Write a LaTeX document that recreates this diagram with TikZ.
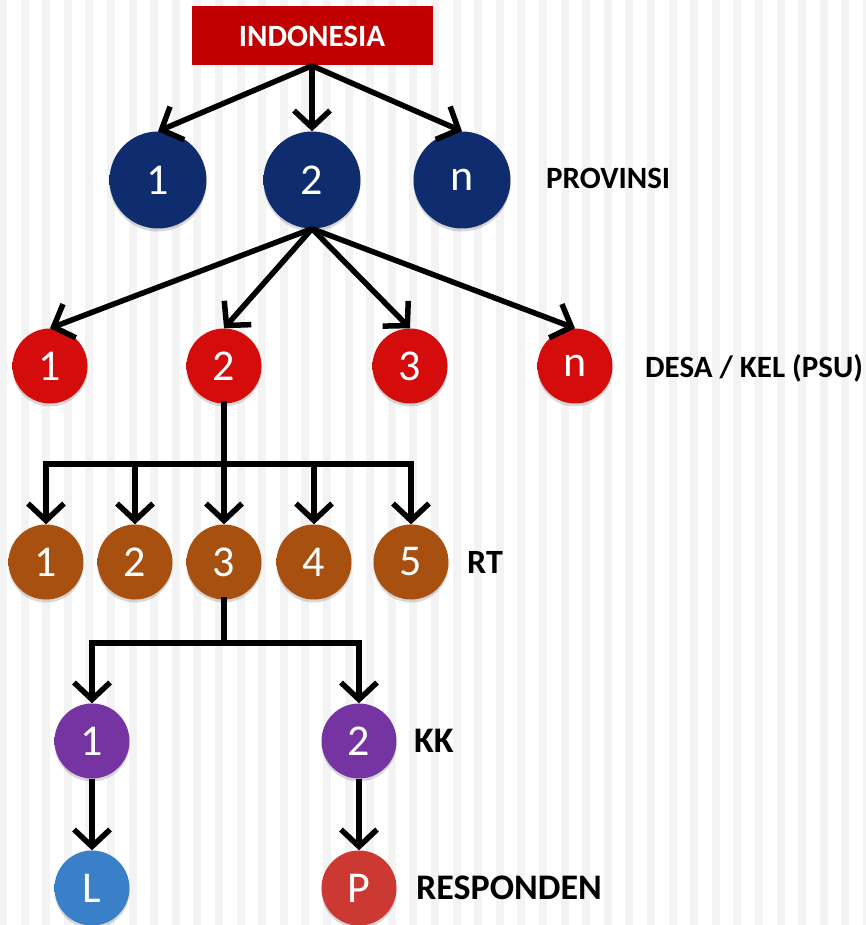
\documentclass[tikz,border=0pt]{standalone}
\usepackage{fontspec}
\setmainfont{Carlito}
\usetikzlibrary{arrows.meta,shadows}

\definecolor{indored}{RGB}{192,0,0}
\definecolor{provblue}{RGB}{14,44,110}
\definecolor{desared}{RGB}{212,12,12}
\definecolor{rtbrown}{RGB}{168,80,16}
\definecolor{kkpurple}{RGB}{118,52,162}
\definecolor{lblue}{RGB}{58,128,200}
\definecolor{pred}{RGB}{204,56,50}
\definecolor{stripe}{RGB}{243,243,243}
\colorlet{ballbase}{provblue}
\colorlet{ballrim}{provblue}

\pgfdeclareradialshading[ballbase,ballrim]{bevelball}{\pgfpoint{0bp}{0bp}}{color(0bp)=(ballbase); color(30bp)=(ballbase); color(50bp)=(ballrim)}

\tikzset{
	ballcolor/.code={\colorlet{ballbase}{#1}\colorlet{ballrim}{#1!40!black}},
	ball/.style={circle, inner sep=0pt, minimum size=75pt, text=white,
		font=\fontsize{44}{44}\selectfont, shading=bevelball, ballcolor=#1,
		drop shadow={opacity=0.3, shadow xshift=0pt, shadow yshift=-3pt}},
	indobox/.style={fill=indored, text=white, minimum width=241pt, minimum height=59pt,
		font=\bfseries\fontsize{31}{31}\selectfont},
	tag/.style={anchor=west, inner sep=0pt, font=\bfseries\fontsize{#1}{#1}\selectfont},
	wire/.style={line width=5.5pt, line cap=rect},
	link/.style={line width=5.5pt, -{Straight Barb[length=17pt,width=36pt]}}
}

\begin{document}
\begin{tikzpicture}[x=1pt, y=-1pt]
	\useasboundingbox (0,0) rectangle (865,925);
	\foreach \k in {0,...,40}
		\fill[stripe] ({21.6*\k-1},0) rectangle ({21.6*\k+7},925);

	% nodes
	\node[indobox] (indo) at (312,36) {INDONESIA};
	\node[ball=provblue, minimum size=97pt] (p1) at (158,180) {1};
	\node[ball=provblue, minimum size=97pt] (p2) at (312,180) {2};
	\node[ball=provblue, minimum size=97pt] (pn) at (462,180) {n};
	\node[ball=desared] (d1) at (50,366) {1};
	\node[ball=desared] (d2) at (224,366) {2};
	\node[ball=desared] (d3) at (410,366) {3};
	\node[ball=desared] (dn) at (575,366) {n};
	\node[ball=rtbrown] (r1) at (46,562) {1};
	\node[ball=rtbrown] (r2) at (135,562) {2};
	\node[ball=rtbrown] (r3) at (224,562) {3};
	\node[ball=rtbrown] (r4) at (314,562) {4};
	\node[ball=rtbrown] (r5) at (411,562) {5};
	\node[ball=kkpurple] (k1) at (92,741) {1};
	\node[ball=kkpurple] (k2) at (359,741) {2};
	\node[ball=lblue] (l) at (92,888) {L};
	\node[ball=pred] (p) at (359,888) {P};
	\coordinate (rtbus) at (224,464);
	\coordinate (kkbus) at (224,643);

	% level names
	\node[tag=31] (provinsi) at (546,178) {PROVINSI};
	\node[tag=31] (desa) at (645,368) {DESA / KEL (PSU)};
	\node[tag=34] (rt) at (467,562) {RT};
	\node[tag=36] (kk) at (414,741) {KK};
	\node[tag=36] (responden) at (416,888) {RESPONDEN};

	% arrows
	\draw[link] (indo.south) -- (p1.north);
	\draw[link] (indo.south) -- (p2.north);
	\draw[link] (indo.south) -- (pn.north);
	\draw[link] (p2.south) -- (d1.north);
	\draw[link] (p2.south) -- (d2.north);
	\draw[link] (p2.south) -- (d3.north);
	\draw[link] (p2.south) -- (dn.north);
	\draw[wire] (d2.south) -- (rtbus);
	\draw[wire] (rtbus -| r1) -- (rtbus -| r5);
	\draw[link] (rtbus -| r1) -- (r1.north);
	\draw[link] (rtbus -| r2) -- (r2.north);
	\draw[link] (rtbus) -- (r3.north);
	\draw[link] (rtbus -| r4) -- (r4.north);
	\draw[link] (rtbus -| r5) -- (r5.north);
	\draw[wire] (r3.south) -- (kkbus);
	\draw[wire] (kkbus -| k1) -- (kkbus -| k2);
	\draw[link] (kkbus -| k1) -- (k1.north);
	\draw[link] (kkbus -| k2) -- (k2.north);
	\draw[link] (k1.south) -- (l.north);
	\draw[link] (k2.south) -- (p.north);
\end{tikzpicture}
\end{document}
